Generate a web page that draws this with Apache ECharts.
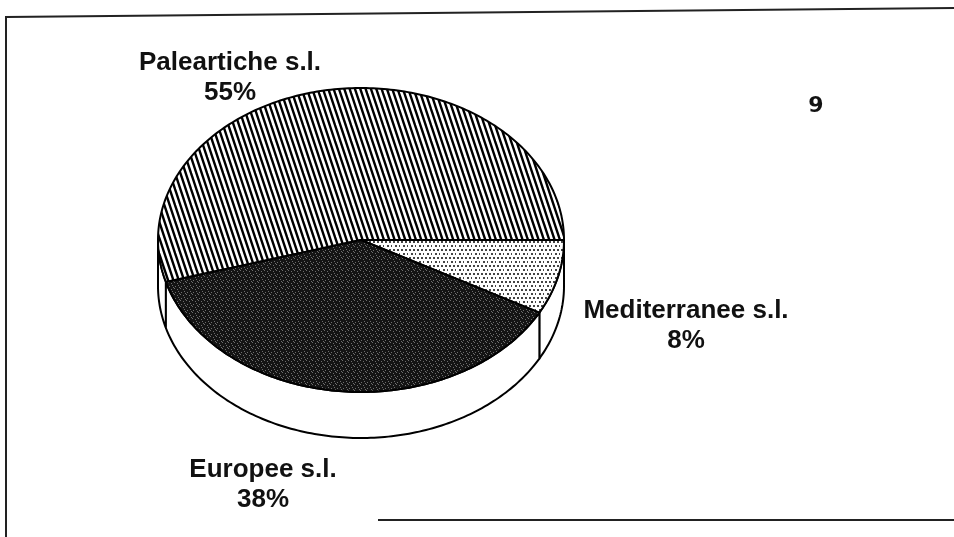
<!DOCTYPE html>
<html><head><meta charset="utf-8">
<script src="https://cdn.jsdelivr.net/npm/echarts@6/dist/echarts.min.js"></script>
<style>html,body{margin:0;padding:0;background:#fff}#c{width:954px;height:537px}</style>
</head><body><div id="c"></div>
<script>
// ---- data ----
const categories = ['Paleartiche s.l.', 'Mediterranee s.l.', 'Europee s.l.'];
const values = [55, 8, 38];
const panelLabel = '9';

// ---- layout (not data) ----
const CX = 361, CY = 240, RX = 203, RY = 152, DEPTH = 46;
const labelTop = [[230, 48], [686, 296], [263, 455]];
const FONT = 'bold 26px "Liberation Sans", Arial, sans-serif';

function hatchCanvas() {
  const c = document.createElement('canvas'); c.width = 16; c.height = 16;
  const g = c.getContext('2d');
  g.fillStyle = '#fff'; g.fillRect(0, 0, 16, 16);
  g.strokeStyle = '#000'; g.lineWidth = 2.4;
  const P = 16 / 3;
  for (let k = -4; k < 8; k++) {
    const x0 = k * P;
    g.beginPath(); g.moveTo(x0 - 2 / 3, -2); g.lineTo(x0 + 6, 18); g.stroke();
  }
  return c;
}
function dotCanvas() {
  const c = document.createElement('canvas'); c.width = 8; c.height = 8;
  const g = c.getContext('2d');
  g.fillStyle = '#fff'; g.fillRect(0, 0, 8, 8);
  g.fillStyle = '#444';
  [[1,1],[5,1],[3,5],[7,5]].forEach(p => g.fillRect(p[0], p[1], 2, 2));
  return c;
}
function darkCanvas() {
  const c = document.createElement('canvas'); c.width = 6; c.height = 6;
  const g = c.getContext('2d');
  g.fillStyle = '#141414'; g.fillRect(0, 0, 6, 6);
  g.fillStyle = '#6e6e6e';
  [[0,0],[3,1],[1,4],[4,3],[5,5]].forEach(p => g.fillRect(p[0], p[1], 1, 1));
  return c;
}
const fills = [
  { type: 'pattern', image: hatchCanvas(), repeat: 'repeat' },
  { type: 'pattern', image: dotCanvas(), repeat: 'repeat' },
  { type: 'pattern', image: darkCanvas(), repeat: 'repeat' }
];

const total = values.reduce((a, b) => a + b, 0);
function pt(deg, dy) {
  const r = deg * Math.PI / 180;
  return [CX + RX * Math.cos(r), CY + RY * Math.sin(r) + (dy || 0)];
}
function renderItem(params, api) {
  const i = params.dataIndex;
  let start = -values[0] / total * 360;
  for (let k = 0; k < i; k++) start += values[k] / total * 360;
  const end = start + api.value(0) / total * 360;
  const children = [];
  for (const off of [-360, 0, 360]) {
    const s = Math.max(start + off, 0), e = Math.min(end + off, 180);
    if (e > s) {
      const pts = [];
      const n = Math.max(2, Math.ceil(e - s));
      for (let j = 0; j <= n; j++) pts.push(pt(s + (e - s) * j / n));
      for (let j = n; j >= 0; j--) pts.push(pt(s + (e - s) * j / n, DEPTH));
      children.push({ type: 'polygon', shape: { points: pts },
        style: { fill: '#fff', stroke: '#000', lineWidth: 2, lineJoin: 'round' } });
    }
  }
  const tp = [[CX, CY]];
  const n = Math.ceil(end - start);
  for (let j = 0; j <= n; j++) tp.push(pt(start + (end - start) * j / n));
  children.push({ type: 'polygon', shape: { points: tp },
    style: { fill: fills[i], stroke: '#000', lineWidth: 2, lineJoin: 'round' } });
  children.push({ type: 'text', style: {
    text: categories[i] + '\n' + api.value(0) + '%',
    x: labelTop[i][0], y: labelTop[i][1], align: 'center', verticalAlign: 'top',
    font: FONT, lineHeight: 30, fill: '#111' } });
  return { type: 'group', children };
}

const chart = echarts.init(document.getElementById('c'), null, { renderer: 'canvas' });
chart.setOption({
  backgroundColor: '#fff',
  animation: false,
  graphic: [
    { type: 'polyline', shape: { points: [[6, 537], [6, 17], [954, 8]] },
      style: { stroke: '#222', lineWidth: 2, fill: null } },
    { type: 'line', shape: { x1: 378, y1: 520, x2: 954, y2: 520 },
      style: { stroke: '#222', lineWidth: 2 } },
    { type: 'text', style: { text: panelLabel, x: 816, y: 106, align: 'center',
      verticalAlign: 'middle', font: 'bold 22px "DejaVu Sans", sans-serif', fill: '#111' } }
  ],
  series: [{
    type: 'custom',
    coordinateSystem: 'none',
    renderItem: renderItem,
    data: values.map(v => [v])
  }]
});
</script></body></html>
